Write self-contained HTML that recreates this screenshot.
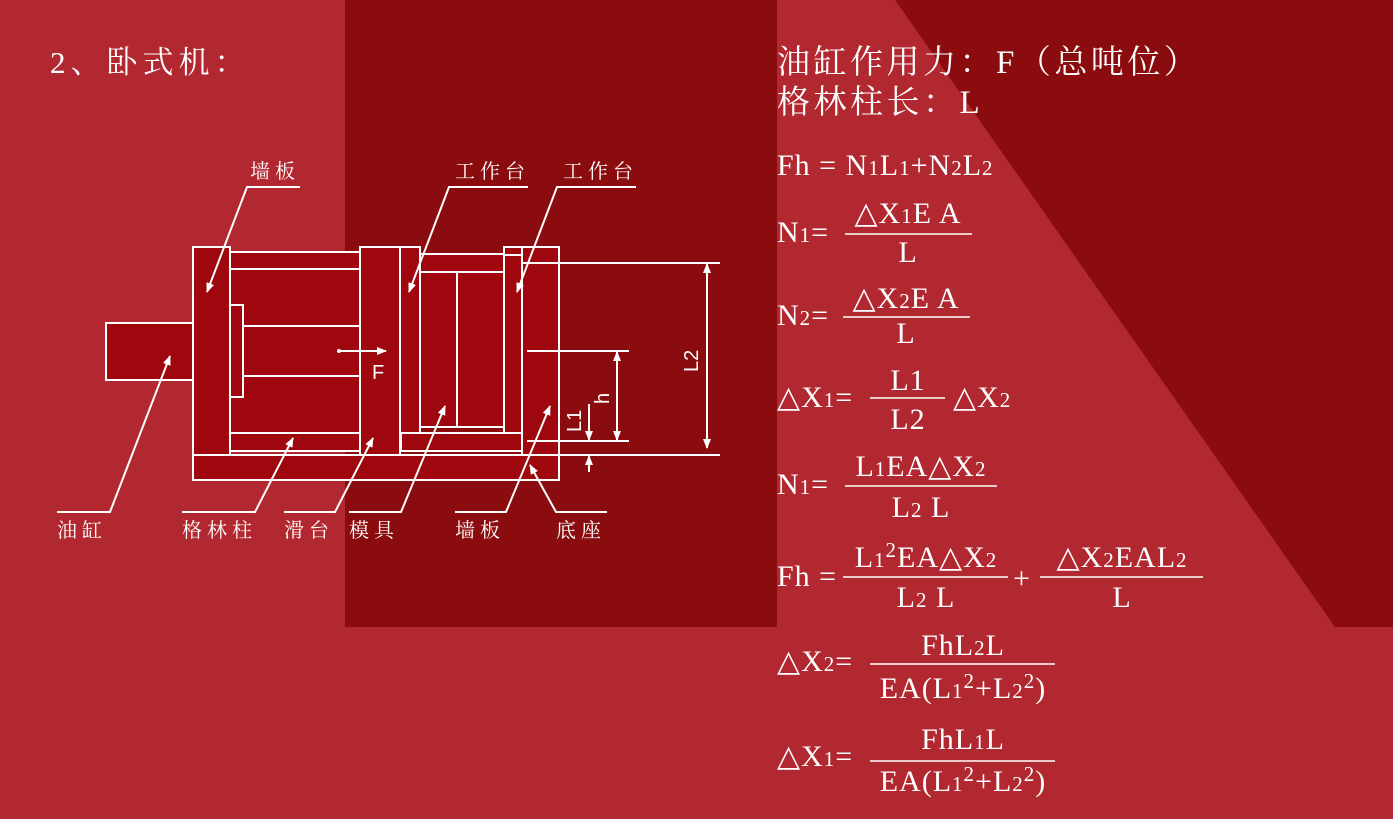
<!DOCTYPE html>
<html><head><meta charset="utf-8"><style>
html,body{margin:0;padding:0;}
body{width:1393px;height:819px;overflow:hidden;background:#b22830;}
svg{position:absolute;left:0;top:0;}
</style></head><body>
<svg width="1393" height="819" viewBox="0 0 1393 819" xmlns="http://www.w3.org/2000/svg">
<defs>
<marker id="ar" markerWidth="10" markerHeight="8" refX="9" refY="4" orient="auto" markerUnits="userSpaceOnUse">
<path d="M0,0 L10,4 L0,8 z" fill="#fff"/></marker>
</defs>
<rect x="0" y="0" width="1393" height="819" fill="#b22830"/>
<rect x="345" y="0" width="432" height="627" fill="#8b0c0f"/>
<polygon points="895,0 1393,0 1393,627 1335,627" fill="#8b0c0f"/>

<g fill="#fff" font-family="'Liberation Serif','Noto Serif CJK SC',serif">
<text x="50" y="73" font-size="31" letter-spacing="5">2、卧式机：</text>
<text x="777" y="73" font-size="33" letter-spacing="3.5">油缸作用力：F（总吨位）</text>
<text x="777" y="113" font-size="33" letter-spacing="3.5">格林柱长：L</text>
</g>

<!-- machine -->
<g stroke="#fff" stroke-width="2" fill="#9e070e">
<rect x="193" y="455" width="366" height="25"/>
<rect x="106" y="323" width="87" height="57"/>
<rect x="230" y="252" width="130" height="17"/>
<rect x="230" y="433" width="130" height="18"/>
<rect x="230" y="269" width="130" height="164"/>
<rect x="243" y="326" width="117" height="50"/>
<rect x="230" y="305" width="13" height="92"/>
<rect x="193" y="247" width="37" height="208"/>
<rect x="360" y="247" width="40" height="208"/>
<rect x="400" y="247" width="20" height="186"/>
<rect x="420" y="254" width="102" height="18"/>
<rect x="401" y="433" width="121" height="18"/>
<rect x="420" y="272" width="84" height="155"/>
<line x1="457" y1="272" x2="457" y2="427"/>
<line x1="420" y1="427" x2="504" y2="427"/>
<rect x="504" y="254" width="18" height="179"/>
<rect x="504" y="247" width="18" height="8"/>
<rect x="522" y="247" width="37" height="208"/>
</g>
<g stroke="#fff" stroke-width="2" fill="none">
<line x1="559" y1="455" x2="720" y2="455"/>
<line x1="522" y1="263" x2="720" y2="263"/>
<line x1="527" y1="351" x2="629" y2="351"/>
<line x1="527" y1="441" x2="629" y2="441"/>
<line x1="707" y1="270" x2="707" y2="448" marker-end="url(#ar)"/>
<line x1="707" y1="448" x2="707" y2="264" marker-end="url(#ar)"/>
<line x1="617" y1="358" x2="617" y2="440" marker-end="url(#ar)"/>
<line x1="617" y1="440" x2="617" y2="352" marker-end="url(#ar)"/>
<line x1="589" y1="404" x2="589" y2="440" marker-end="url(#ar)"/>
<line x1="589" y1="472" x2="589" y2="456" marker-end="url(#ar)"/>
<line x1="339" y1="351" x2="386" y2="351" marker-end="url(#ar)"/>
<polyline points="300,187 247,187 207,292" marker-end="url(#ar)"/>
<polyline points="528,187 449,187 409,292" marker-end="url(#ar)"/>
<polyline points="636,187 557,187 517,292" marker-end="url(#ar)"/>
<polyline points="57,512 110,512 170,356" marker-end="url(#ar)"/>
<polyline points="182,512 255,512 293,438" marker-end="url(#ar)"/>
<polyline points="284,512 335,512 373,438" marker-end="url(#ar)"/>
<polyline points="349,512 401,512 445,406" marker-end="url(#ar)"/>
<polyline points="455,512 506,512 550,406" marker-end="url(#ar)"/>
<polyline points="607,512 556,512 530,465" marker-end="url(#ar)"/>
</g>
<circle cx="339" cy="351" r="2" fill="#fff"/>
<g fill="#fff" font-family="'Liberation Sans',sans-serif" font-size="20">
<text x="372" y="379">F</text>
<text transform="translate(698,372) rotate(-90)">L2</text>
<text transform="translate(609,404) rotate(-90)">h</text>
<text transform="translate(581,432) rotate(-90)">L1</text>
</g>
<g fill="#fff" font-family="'Liberation Serif','Noto Serif CJK SC',serif" font-size="20" letter-spacing="5">
<text x="250" y="178">墙板</text>
<text x="455" y="178">工作台</text>
<text x="563" y="178">工作台</text>
<text x="57" y="537">油缸</text>
<text x="182" y="537">格林柱</text>
<text x="284" y="537">滑台</text>
<text x="349" y="537">模具</text>
<text x="455" y="537">墙板</text>
<text x="556" y="537">底座</text>
</g>

<!-- formulas -->
<g fill="#fff" font-family="'Liberation Serif',serif" font-size="30" letter-spacing="1">
<text x="777" y="175">Fh = N<tspan font-size="21">1</tspan>L<tspan font-size="21">1</tspan>+N<tspan font-size="21">2</tspan>L<tspan font-size="21">2</tspan></text>

<text x="777" y="242">N<tspan font-size="21">1</tspan>=</text>
<text x="908" y="223" text-anchor="middle">△X<tspan font-size="21">1</tspan>E A</text>
<text x="908" y="262" text-anchor="middle">L</text>

<text x="777" y="325">N<tspan font-size="21">2</tspan>=</text>
<text x="906" y="308" text-anchor="middle">△X<tspan font-size="21">2</tspan>E A</text>
<text x="906" y="343" text-anchor="middle">L</text>

<text x="777" y="407">△X<tspan font-size="21">1</tspan>=</text>
<text x="908" y="390" text-anchor="middle">L1</text>
<text x="908" y="429" text-anchor="middle">L2</text>
<text x="953" y="407">△X<tspan font-size="21">2</tspan></text>

<text x="777" y="494">N<tspan font-size="21">1</tspan>=</text>
<text x="921" y="476" text-anchor="middle">L<tspan font-size="21">1</tspan>EA△X<tspan font-size="21">2</tspan></text>
<text x="921" y="517" text-anchor="middle">L<tspan font-size="21">2</tspan> L</text>

<text x="777" y="586">Fh =</text>
<text x="926" y="567" text-anchor="middle">L<tspan font-size="21">1</tspan><tspan font-size="21" dy="-10">2</tspan><tspan dy="10">EA△X</tspan><tspan font-size="21">2</tspan></text>
<text x="926" y="607" text-anchor="middle">L<tspan font-size="21">2</tspan> L</text>
<text x="1013" y="588">+</text>
<text x="1122" y="567" text-anchor="middle">△X<tspan font-size="21">2</tspan>EAL<tspan font-size="21">2</tspan></text>
<text x="1122" y="607" text-anchor="middle">L</text>

<text x="777" y="671">△X<tspan font-size="21">2</tspan>=</text>
<text x="963" y="655" text-anchor="middle">FhL<tspan font-size="21">2</tspan>L</text>
<text x="963" y="698" text-anchor="middle">EA(L<tspan font-size="21">1</tspan><tspan font-size="21" dy="-10">2</tspan><tspan dy="10">+L</tspan><tspan font-size="21">2</tspan><tspan font-size="21" dy="-10">2</tspan><tspan dy="10">)</tspan></text>

<text x="777" y="766">△X<tspan font-size="21">1</tspan>=</text>
<text x="963" y="749" text-anchor="middle">FhL<tspan font-size="21">1</tspan>L</text>
<text x="963" y="791" text-anchor="middle">EA(L<tspan font-size="21">1</tspan><tspan font-size="21" dy="-10">2</tspan><tspan dy="10">+L</tspan><tspan font-size="21">2</tspan><tspan font-size="21" dy="-10">2</tspan><tspan dy="10">)</tspan></text>
</g>
<g stroke="#fff" stroke-width="1.5">
<line x1="845" y1="234" x2="972" y2="234"/>
<line x1="843" y1="317" x2="970" y2="317"/>
<line x1="870" y1="398" x2="945" y2="398"/>
<line x1="845" y1="486" x2="997" y2="486"/>
<line x1="843" y1="577" x2="1008" y2="577"/>
<line x1="1040" y1="577" x2="1203" y2="577"/>
<line x1="870" y1="664" x2="1055" y2="664"/>
<line x1="870" y1="761" x2="1055" y2="761"/>
</g>
</svg>
</body></html>
